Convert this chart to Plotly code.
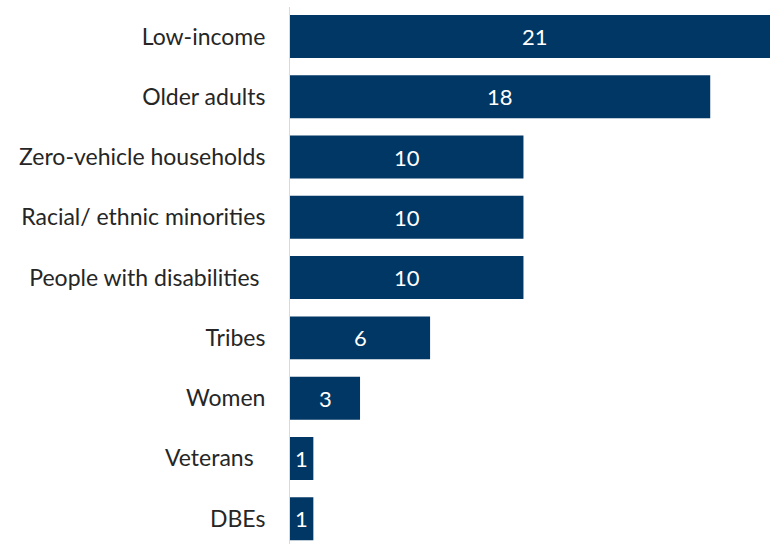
import plotly.graph_objects as go

categories = ["Low-income", "Older adults", "Zero-vehicle households", "Racial/ ethnic minorities",
              "People with disabilities\u00a0", "Tribes", "Women", "Veterans\u00a0\u00a0", "DBEs"]
values = [21, 18, 10, 10, 10, 6, 3, 1, 1]

bar_color = "#003764"
FONT = "Lato"

fig = go.Figure()
fig.add_trace(go.Bar(
    x=values, y=categories, orientation="h",
    marker=dict(color=bar_color, line=dict(width=0)),
    hoverinfo="x+y",
))

for c, v in zip(categories, values):
    fig.add_annotation(x=v / 2, y=c, text=str(v), showarrow=False,
                       font=dict(color="white", size=22, family=FONT),
                       xref="x", yref="y")

fig.update_layout(
    width=770, height=544,
    margin=dict(l=290, r=0, t=7, b=0),
    paper_bgcolor="white", plot_bgcolor="white",
    bargap=0.287,
    showlegend=False,
    font=dict(family=FONT, size=23, color="#262626"),
    xaxis=dict(range=[0, 20.56], showgrid=False, showticklabels=False, zeroline=False,
               showline=False, fixedrange=True),
    yaxis=dict(range=[8.42, -0.49], showgrid=False, showline=True, linecolor="#d9d9d9",
               linewidth=1, ticks="", ticklabelstandoff=19, zeroline=False,
               tickfont=dict(size=23, color="#262626", family=FONT)),
)

fig.write_html("out.html")
